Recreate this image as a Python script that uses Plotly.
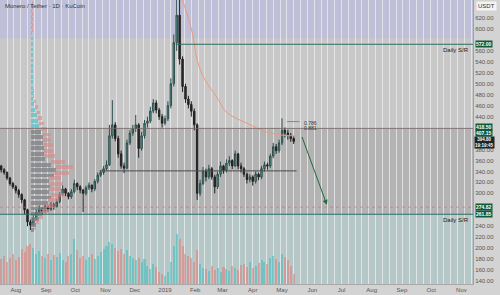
import plotly.graph_objects as go
import pandas as pd

# ---------------- data ----------------
dates = pd.date_range('2018-07-17', periods=101, freq='3D')

opens = [350, 343, 338, 328, 318, 312, 305, 298, 288, 270, 248, 242, 255, 265, 272, 268, 275, 271, 280, 276,
         285, 298, 308, 300, 294, 303, 318, 312, 306, 300, 310, 315, 308, 322, 333, 338, 345, 352, 405, 425,
         400, 372, 350, 346, 392, 410, 418, 425, 382, 405, 428, 432, 450, 465, 452, 440, 428, 436, 460, 500,
         575, 625, 545, 495, 472, 462, 450, 425, 300, 318, 340, 330, 345, 330, 312, 335, 350, 342, 355, 360,
         350, 372, 350, 345, 335, 325, 330, 322, 335, 330, 345, 352, 350, 368, 385, 378, 392, 415, 410, 406,
         400]
highs = [352, 346, 340, 330, 321, 315, 308, 300, 290, 272, 252, 260, 270, 278, 275, 280, 278, 284, 283, 290,
         302, 315, 310, 302, 308, 325, 320, 315, 308, 314, 320, 316, 326, 338, 342, 350, 360, 425, 470, 430,
         405, 378, 356, 398, 416, 425, 443, 428, 412, 434, 440, 458, 472, 470, 456, 445, 442, 468, 510, 590,
         670, 660, 550, 500, 478, 468, 455, 428, 325, 348, 345, 352, 348, 334, 340, 358, 352, 362, 368, 362,
         378, 374, 356, 348, 338, 335, 333, 340, 338, 350, 358, 356, 372, 392, 390, 398, 437, 420, 416, 410,
         404]
lows = [338, 334, 324, 314, 308, 300, 292, 282, 262, 240, 233, 240, 250, 262, 262, 264, 266, 268, 270, 274,
        282, 296, 295, 289, 290, 300, 306, 300, 266, 296, 306, 302, 304, 318, 330, 334, 342, 350, 400, 395,
        365, 345, 337, 344, 388, 405, 412, 365, 378, 400, 420, 428, 446, 446, 434, 420, 424, 432, 455, 495,
        560, 535, 485, 465, 455, 440, 415, 288, 295, 315, 322, 326, 325, 300, 308, 330, 336, 338, 350, 344,
        348, 344, 338, 330, 318, 320, 314, 318, 324, 326, 340, 343, 346, 364, 372, 374, 388, 402, 398, 394,
        390]
closes = [343, 338, 328, 318, 312, 305, 298, 288, 270, 248, 242, 255, 265, 272, 268, 275, 271, 280, 276, 285,
          298, 308, 300, 294, 303, 318, 312, 306, 300, 310, 315, 308, 322, 333, 338, 345, 352, 405, 425, 400,
          372, 350, 346, 392, 410, 418, 425, 382, 405, 428, 432, 450, 465, 452, 440, 428, 436, 460, 500, 575,
          625, 545, 495, 472, 462, 450, 425, 300, 318, 340, 330, 345, 330, 312, 335, 350, 342, 355, 360, 350,
          372, 350, 345, 335, 325, 330, 322, 335, 330, 345, 352, 350, 368, 385, 378, 392, 415, 410, 406, 400,
          394.8]
volumes = [25, 28, 22, 26, 30, 24, 27, 35, 32, 38, 40, 36, 30, 33, 28, 26, 30, 24, 29, 27,
           31, 24, 22, 28, 30, 45, 34, 26, 28, 24, 27, 30, 25, 28, 32, 35, 38, 42, 40, 36,
           33, 35, 30, 34, 28, 26, 24, 26, 22, 25, 18, 15, 20, 17, 12, 10, 8, 12, 22, 38,
           50, 45, 38, 30, 28, 26, 22, 34, 20, 16, 15, 13, 18, 14, 16, 12, 17, 15, 13, 18,
           16, 14, 19, 20, 17, 22, 16, 18, 21, 24, 22, 20, 26, 28, 25, 22, 30, 27, 24, 18,
           10]

# volume profile (price bins of 10)
vp_prices = [235, 245, 255, 265, 275, 285, 295, 305, 315, 325, 335, 345, 355, 365, 375, 385, 395, 405, 415,
             425, 435, 445, 455, 465, 475, 485, 495, 505, 515, 525, 535, 545, 555, 565, 575, 585, 595, 605,
             615, 625, 635, 645]
vp_up = [3, 5, 8, 11, 15, 17, 20, 18, 19, 18, 23, 25, 20, 14, 13, 13, 12, 12, 10, 8, 7, 6, 4, 3, 2, 2,
         1.5, 1.5, 1.5, 1.5, 1.5, 1.5, 1.5, 1.5, 1.5, 1.5, 1, 1, 1, 1, 1, 1]
vp_down = [2, 3, 4, 7, 9, 11, 14, 12, 13, 12, 15, 17, 14, 10, 9, 9, 8, 8, 6, 5, 4, 3, 3, 2, 1, 1,
           0.5, 0.5, 0.5, 0.5, 0.5, 0.5, 0.5, 0.5, 0.5, 0.5, 0.5, 0.5, 0.5, 0.5, 0.5, 0.5]

# moving average curve
ma_dates = ['2019-01-19', '2019-01-29', '2019-02-03', '2019-02-11', '2019-02-23', '2019-03-05',
            '2019-03-26', '2019-04-15', '2019-05-02', '2019-05-14']
ma_values = [653, 593, 543, 507, 476, 448, 428, 412, 406, 405]

month_ticks = ['2018-08-01', '2018-09-01', '2018-10-01', '2018-11-01', '2018-12-01', '2019-01-01',
               '2019-02-01', '2019-03-01', '2019-04-01', '2019-05-01', '2019-06-01', '2019-07-01',
               '2019-08-01', '2019-09-01', '2019-10-01', '2019-11-01']
month_labels = ['Aug', 'Sep', 'Oct', 'Nov', 'Dec', '2019', 'Feb', 'Mar', 'Apr', 'May', 'Jun', 'Jul',
                'Aug', 'Sep', 'Oct', 'Nov']
price_ticks = [140, 160, 180, 200, 220, 240, 300, 320, 340, 360, 380, 440, 460, 480, 500, 520, 540, 560,
               600, 620]

sr_levels = [572.0, 261.85]
sr_start = ['2019-01-12', '2018-07-15']
zone_top, zone_bottom = 418.5, 261.85
mid_level = 341.0
mid_span = ['2018-10-26', '2019-05-16']
dotted_level = 274.82
fib_levels = [429.0, 420.0]
fib_labels = ['0.786', '0.881']
arrow_from = ('2019-05-21', 405.5)
arrow_to = ('2019-06-16', 279.0)
# (price, label, vertical nudge in px)
price_boxes = [(572.00, '572.00', 0), (418.50, '418.50', 1.2), (407.15, '407.15', 1.2),
               (274.82, '274.82', 0), (261.85, '261.85', 0)]
last_price = 394.80
last_time = '19:19:45'

X_RANGE = ['2018-07-15 19:00', '2019-11-12 21:00']
Y_RANGE = [134.6, 652.8]
FONT = 'Liberation Sans'

fig = go.Figure()

# weekly stripe helper axis
fig.add_trace(go.Scatter(x=[dates[0]], y=[300], xaxis='x3', yaxis='y', mode='markers',
                         marker=dict(opacity=0), hoverinfo='skip', showlegend=False))

# volume
vol_colors = ['rgba(60,190,190,0.55)' if c >= o else 'rgba(225,120,115,0.55)' for o, c in zip(opens, closes)]
fig.add_trace(go.Bar(x=dates, y=volumes, xaxis='x', yaxis='y2', marker=dict(color=vol_colors, line=dict(width=0)),
                     width=3 * 86400000 * 0.7, showlegend=False))

# volume profile
up_colors = ['rgba(95,195,200,0.75)' if p > zone_top else 'rgba(125,128,132,0.75)' for p in vp_prices]
fig.add_trace(go.Bar(x=vp_up, y=vp_prices, orientation='h', xaxis='x2', yaxis='y', width=7,
                     marker=dict(color=up_colors, line=dict(width=0)), showlegend=False))
fig.add_trace(go.Bar(x=vp_down, y=vp_prices, base=vp_up, orientation='h', xaxis='x2', yaxis='y', width=7,
                     marker=dict(color='rgba(220,135,135,0.6)', line=dict(width=0)), showlegend=False))

# candles
fig.add_trace(go.Candlestick(x=dates, open=opens, high=highs, low=lows, close=closes, xaxis='x', yaxis='y',
                             increasing=dict(line=dict(color='#2d4f4d', width=1), fillcolor='#5a9f98'),
                             decreasing=dict(line=dict(color='#222222', width=1), fillcolor='#2a2a2a'),
                             whiskerwidth=0, showlegend=False))

# moving average
fig.add_trace(go.Scatter(x=ma_dates, y=ma_values, mode='lines', line=dict(color='#eb9a78', width=1, shape='spline'),
                         xaxis='x', yaxis='y', showlegend=False))

shapes = [
    dict(type='rect', xref='paper', yref='y', x0=0, x1=1, y0=583, y1=Y_RANGE[1],
         fillcolor='rgba(180,180,235,0.45)', line=dict(width=0), layer='below'),
    dict(type='rect', xref='paper', yref='y', x0=0, x1=1, y0=zone_bottom, y1=zone_top,
         fillcolor='rgba(80,80,80,0.17)', line=dict(width=0), layer='below'),
    dict(type='rect', xref='paper', yref='y', x0=0, x1=1, y0=Y_RANGE[0], y1=zone_bottom,
         fillcolor='rgba(90,200,200,0.16)', line=dict(width=0), layer='below'),
    dict(type='line', xref='paper', yref='y', x0=0, x1=1, y0=zone_top, y1=zone_top,
         line=dict(color='rgba(120,105,105,0.85)', width=1)),
    dict(type='line', xref='x', yref='y', x0=mid_span[0], x1=mid_span[1], y0=mid_level, y1=mid_level,
         line=dict(color='#4a4a4a', width=1)),
    dict(type='line', xref='paper', yref='y', x0=0, x1=1, y0=dotted_level, y1=dotted_level,
         line=dict(color='rgba(200,110,110,0.6)', width=1, dash='dot')),
    dict(type='line', xref='x', yref='y', x0='2019-05-06', x1='2019-05-19', y0=fib_levels[0] + 2,
         y1=fib_levels[0] + 2, line=dict(color='#888888', width=1)),
]
for lvl, st in zip(sr_levels, sr_start):
    shapes.append(dict(type='line', xref='x', yref='y', x0=st, x1=X_RANGE[1], y0=lvl, y1=lvl,
                       line=dict(color='#2b6e66', width=1)))

annotations = [
    dict(text='Monero / Tether · 1D · KuCoin', xref='paper', yref='paper', x=0.006, y=0.995,
         xanchor='left', yanchor='top', showarrow=False, font=dict(size=6, color='#333', family=FONT)),
    dict(text='USDT', xref='paper', yref='paper', x=1.0, y=0.995, xanchor='left', yanchor='top', xshift=3,
         showarrow=False, bgcolor='#f4f4f4', font=dict(size=6, color='#333', family=FONT)),
    dict(text='', xref='x', yref='y', axref='x', ayref='y', x=arrow_to[0], y=arrow_to[1],
         ax=arrow_from[0], ay=arrow_from[1], showarrow=True, arrowhead=2, arrowsize=1, arrowwidth=1,
         arrowcolor='#1f6b3a'),
    dict(text='<b>' + format(last_price, '.2f') + '<br>' + last_time + '</b>', xref='paper', yref='y',
         x=1.0, y=last_price, yshift=-1.5, xanchor='left', xshift=1, showarrow=False, bgcolor='#1d2626',
         font=dict(size=4.5, color='white', family=FONT), borderpad=0),
]
for lvl in sr_levels:
    annotations.append(dict(text='Daily S/R', xref='paper', yref='y', x=0.995, y=lvl, yshift=-6,
                            xanchor='right', showarrow=False, font=dict(size=6, color='#222', family=FONT)))
for lvl, lab in zip(fib_levels, fib_labels):
    annotations.append(dict(text=lab, xref='x', yref='y', x='2019-05-21', y=lvl, xanchor='left',
                            showarrow=False, font=dict(size=5, color='#333', family=FONT)))
for lvl, lab, nudge in price_boxes:
    annotations.append(dict(text='<b>' + lab + '</b>', xref='paper', yref='y', x=1.0, y=lvl, yshift=nudge,
                            xanchor='left', xshift=2, showarrow=False, bgcolor='#0f5b39', borderpad=0,
                            font=dict(size=5, color='white', family=FONT)))

fig.update_layout(
    width=500, height=295, margin=dict(l=0, r=27, t=0, b=11),
    paper_bgcolor='#d3d3d3', plot_bgcolor='#c8c8c8',
    showlegend=False, bargap=0,
    font=dict(family=FONT, size=6, color='#555'),
    xaxis=dict(type='date', range=X_RANGE, tickvals=month_ticks, ticktext=month_labels, showgrid=False,
               rangeslider=dict(visible=False), ticks='', tickfont=dict(size=6, color='#555'),
               showline=True, linecolor='#a8a8a8', zeroline=False, fixedrange=True),
    xaxis2=dict(overlaying='x', range=[-31, 442], visible=False),
    xaxis3=dict(overlaying='x', type='date', range=X_RANGE, dtick=7 * 86400000, tick0='2018-07-16',
                showgrid=True, gridcolor='rgba(238,238,242,0.75)', gridwidth=1, showticklabels=False,
                ticks='', zeroline=False),
    yaxis=dict(side='right', range=Y_RANGE, tickvals=price_ticks, ticktext=['%.2f' % v for v in price_ticks],
               showgrid=False, ticks='', tickfont=dict(size=6, color='#555'), showline=True,
               linecolor='#a0a0a0', zeroline=False),
    yaxis2=dict(overlaying='y', range=[0, 284], visible=False),
    shapes=shapes, annotations=annotations,
)

fig.write_html('out.html')
